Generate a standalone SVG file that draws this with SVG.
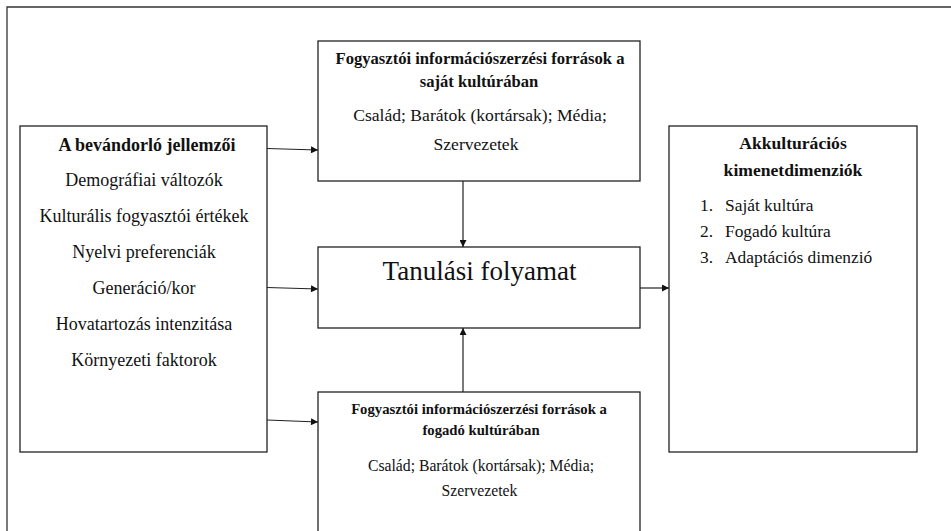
<svg xmlns="http://www.w3.org/2000/svg" width="951" height="531" viewBox="0 0 951 531">
<defs>
<marker id="arr" viewBox="0 0 10 10" refX="10" refY="5" markerWidth="8" markerHeight="7" markerUnits="userSpaceOnUse" orient="auto">
<path d="M0,0 L10,5 L0,10 z" fill="#111"/>
</marker>
<style>
.box{fill:#fff;stroke:#222;stroke-width:1.3}
.frame{fill:none;stroke:#333;stroke-width:1.3}
.conn{fill:none;stroke:#222;stroke-width:1.2;marker-end:url(#arr)}
text{font-family:"Liberation Serif","Times New Roman",serif;fill:#111}
.c{text-anchor:middle}
.b{font-weight:bold}
</style>
</defs>
<rect x="0" y="0" width="951" height="531" fill="#fff"/>
<path class="frame" d="M7,531 V7 H951"/>

<g id="node-bevandorlo">
<rect class="box" x="20" y="126" width="247" height="326"/>
<text class="c b" x="147" y="151" font-size="18">A bevándorló jellemzői</text>
<text class="c" x="144" y="186" font-size="18">Demográfiai változók</text>
<text class="c" x="144" y="222" font-size="18">Kulturális fogyasztói értékek</text>
<text class="c" x="144" y="258" font-size="18">Nyelvi preferenciák</text>
<text class="c" x="144" y="294" font-size="18">Generáció/kor</text>
<text class="c" x="144" y="330" font-size="18">Hovatartozás intenzitása</text>
<text class="c" x="144" y="366" font-size="18">Környezeti faktorok</text>
</g>

<g id="node-sajat">
<rect class="box" x="318" y="41" width="322" height="140"/>
<text class="c b" x="480" y="64" font-size="16.6">Fogyasztói információszerzési források a</text>
<text class="c b" x="479" y="87" font-size="16.6">saját kultúrában</text>
<text class="c" x="480" y="121" font-size="17.6">Család; Barátok (kortársak); Média;</text>
<text class="c" x="476" y="150" font-size="17.6">Szervezetek</text>
</g>

<g id="node-tanulasi">
<rect class="box" x="318" y="247" width="322" height="81"/>
<text class="c" x="479.5" y="280" font-size="27">Tanulási folyamat</text>
</g>

<g id="node-fogado">
<rect class="box" x="318" y="392" width="322" height="150"/>
<text class="c b" x="479" y="414" font-size="14.7">Fogyasztói információszerzési források a</text>
<text class="c b" x="481" y="435" font-size="14.7">fogadó kultúrában</text>
<text class="c" x="481" y="471" font-size="15.7">Család; Barátok (kortársak); Média;</text>
<text class="c" x="479.5" y="496" font-size="15.7">Szervezetek</text>
</g>

<g id="node-akkulturacios">
<rect class="box" x="669" y="126" width="248" height="326"/>
<text class="c b" x="793" y="149" font-size="17.6">Akkulturációs</text>
<text class="c b" x="793" y="176" font-size="17.6">kimenetdimenziók</text>
<text x="700" y="211" font-size="17.4">1.</text>
<text x="725" y="211" font-size="17.4">Saját kultúra</text>
<text x="700" y="237" font-size="17.4">2.</text>
<text x="725" y="237" font-size="17.4">Fogadó kultúra</text>
<text x="700" y="263" font-size="17.4">3.</text>
<text x="725" y="263" font-size="17.4">Adaptációs dimenzió</text>
</g>

<g id="connectors">
<line class="conn" x1="267" y1="148.5" x2="318" y2="150"/>
<line class="conn" x1="267" y1="287.5" x2="318" y2="289"/>
<line class="conn" x1="267" y1="420" x2="318" y2="422"/>
<line class="conn" x1="463" y1="181" x2="463" y2="247"/>
<line class="conn" x1="463" y1="392" x2="463" y2="328"/>
<line class="conn" x1="640" y1="288" x2="669" y2="288"/>
</g>
</svg>
